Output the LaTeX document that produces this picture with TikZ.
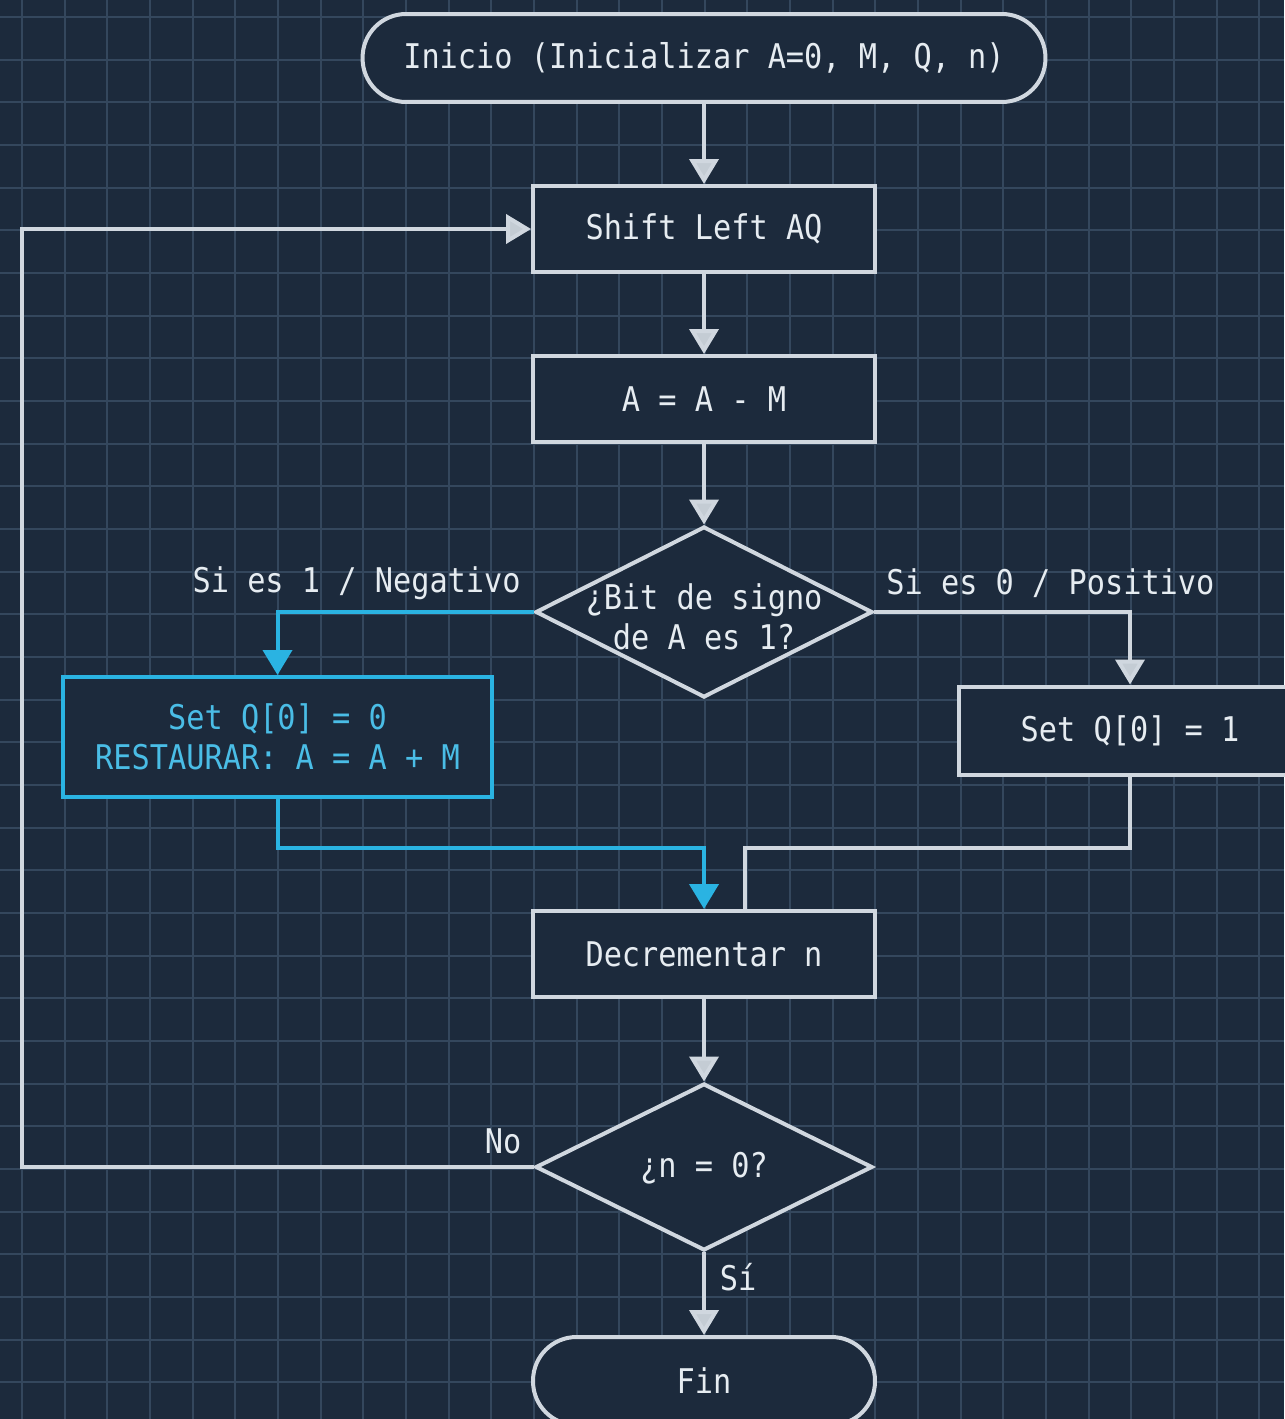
\documentclass[tikz,border=0pt]{standalone}
\usepackage{fontspec}
\usetikzlibrary{arrows.meta,shapes.geometric}
\newfontfamily\flowfont[FakeStretch=0.89]{DejaVu Sans Mono}
\newcommand{\flowsize}{\fontsize{19.36}{22.76}\selectfont}
\definecolor{bgblue}{HTML}{1C2A3C}
\definecolor{gridblue}{HTML}{34475D}
\definecolor{linegray}{HTML}{D0D7DF}
\definecolor{tipgray}{HTML}{C4CCD4}
\definecolor{textwhite}{HTML}{E6ECF1}
\definecolor{flowcyan}{HTML}{2AB3E2}
\definecolor{textcyan}{HTML}{4ABDE6}
\tikzset{
  x=0.02cm, y=-0.02cm,
  base/.style={draw=linegray, fill=bgblue, line width=0.08cm, text=textwhite,
    font=\flowfont\flowsize, inner sep=0pt},
  procbox/.style={base, rectangle, minimum width=6.84cm, minimum height=1.72cm},
  termbox/.style={base, rectangle, rounded corners=0.87cm, minimum height=1.76cm},
  decbox/.style={base, diamond, minimum width=6.74cm, minimum height=3.42cm},
  caption/.style={text=textwhite, font=\flowfont\flowsize, inner sep=0pt, align=center},
  flow/.style={draw=linegray, line width=0.08cm},
  flowarrow/.style={flow, -{Triangle[width=0.58cm, length=0.5cm, fill=tipgray]}},
  cyanflow/.style={draw=flowcyan, line width=0.08cm},
  cyanarrow/.style={cyanflow, -{Triangle[width=0.58cm, length=0.5cm, fill=flowcyan]}},
}
\begin{document}
\begin{tikzpicture}
  % background and blueprint grid
  \fill[bgblue] (0,0) rectangle (1284,1419);
  \useasboundingbox (0,0) rectangle (1284,1419);
  \foreach \i in {0,...,30}
    \draw[gridblue, line width=0.04cm] (22+\i*42.667,0) -- (22+\i*42.667,1419);
  \foreach \j in {0,...,33}
    \draw[gridblue, line width=0.04cm] (0,17+\j*42.667) -- (1284,17+\j*42.667);

  % nodes
  \node[termbox, minimum width=13.66cm] (start) at (704,58) {Inicio (Inicializar A=0, M, Q, n)};
  \node[procbox] (shift) at (704,229) {Shift Left AQ};
  \node[procbox] (sub) at (704,399) {A = A - M};
  \node[decbox] (sign) at (704,612) {};
  \node[caption] (signtext) at (704,617) {¿Bit de signo\\de A es 1?};
  \node[procbox, draw=flowcyan, text=textcyan, minimum width=8.58cm, minimum height=2.4cm,
        align=center] (restore) at (277.5,737) {Set Q[0] = 0\\RESTAURAR: A = A + M};
  \node[procbox, minimum height=1.78cm] (setone) at (1130,731) {Set Q[0] = 1};
  \node[procbox] (dec) at (704,954) {Decrementar n};
  \node[decbox, minimum height=3.34cm] (zero) at (704,1167) {};
  \node[caption] (zerotext) at (704,1168) {¿n = 0?};
  \node[termbox, minimum width=6.84cm] (fin) at (704,1381) {Fin};

  % branch labels
  \node[caption, anchor=east] (neg) at (521,583) {Si es 1 / Negativo};
  \node[caption, anchor=west] (pos) at (886,583) {Si es 0 / Positivo};
  \node[caption] (no) at (503,1141) {No};
  \node[caption] (yes) at (738,1277) {Sí};

  % junction points
  \coordinate (joinleft) at (704,848);
  \coordinate (joinright) at (745,848);
  \coordinate (loopcorner) at (22,1167);

  % connectors
  \draw[flowarrow] (start) -- (shift);
  \draw[flowarrow] (shift) -- (sub);
  \draw[flowarrow] (sub) -- (sign);
  \draw[cyanarrow] (sign.west) -| (restore.north);
  \draw[flowarrow] (sign.east) -| (setone.north);
  \draw[cyanarrow] (restore.south) |- (joinleft) -- (dec.north);
  \draw[flow] (setone.south) |- (joinright) -- (joinright |- dec.north);
  \draw[flowarrow] (dec) -- (zero);
  \draw[flowarrow] (zero.west) -- (loopcorner) |- (shift.west);
  \draw[flowarrow] (zero.south) -- (fin.north);
\end{tikzpicture}
\end{document}
